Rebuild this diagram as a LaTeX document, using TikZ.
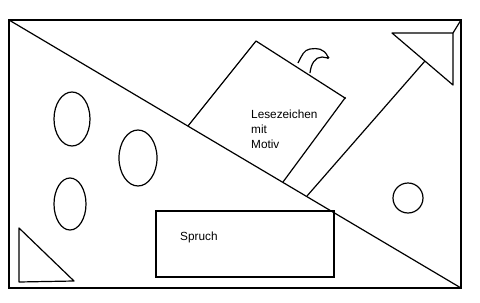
\documentclass[tikz,border=0pt]{standalone}
\usepackage{fontspec}
\setmainfont{Liberation Sans}
\begin{document}
\begin{tikzpicture}[x=1pt,y=-1pt,
  thin line/.style={line width=1.2pt,line join=round},
  thick line/.style={line width=1.8pt},
  lbl/.style={font=\fontsize{11.8}{15}\selectfont,inner sep=0pt,anchor=north west,align=left}]
\useasboundingbox (0,0) rectangle (480,303);
% outer frame
\coordinate (tl) at (9,20);
\coordinate (tr) at (461,20);
\coordinate (br) at (461,288);
\coordinate (bl) at (9,288);
\draw[thick line] (tl) -- (tr) -- (br) -- (bl) -- cycle;
% diagonal
\draw[thin line] (tl) -- (br);
% ellipses
\draw[thin line] (72,119) ellipse [x radius=18, y radius=27];
\draw[thin line] (138,158) ellipse [x radius=19, y radius=28];
\draw[thin line] (70,204) ellipse [x radius=16, y radius=26];
% circle
\draw[thin line] (408,198) circle [radius=15];
% bottom-left triangle
\draw[thin line] (19,228) -- (19,282) -- (74,281) -- cycle;
% Spruch box
\draw[thick line] (156,211) rectangle (334,277);
\node[lbl,anchor=base west] (spruch) at (180,240) {Spruch};
% bookmark
\coordinate (bk1) at (188,126);
\coordinate (bk2) at (256,41);
\coordinate (bk3) at (345,98);
\coordinate (bk4) at (283,182);
\draw[thin line] (bk1) -- (bk2) -- (bk3) -- (bk4);
\fill (bk3) circle [radius=1.2];
% tassel
\draw[thin line] (298,63) .. controls (302,55) and (304,50) .. (310,49)
  .. controls (317,48) and (324,48) .. (328,57);
\draw[thin line] (310,73) .. controls (311,64) and (315,57) .. (322,57) -- (328,58);
\fill (328,57.5) circle [radius=1.5];
\node[lbl] (motiv) at (251,110) {Lesezeichen\\mit\\Motiv};
% arrow
\coordinate (a1) at (392,33);
\coordinate (a2) at (453,33);
\coordinate (a3) at (453,85);
\draw[thin line] (a1) -- (a2) -- (a3) -- cycle;
\draw[thin line] (a2) -- (tr);
\draw[thin line] (425,61) -- (307,196);
\end{tikzpicture}
\end{document}
